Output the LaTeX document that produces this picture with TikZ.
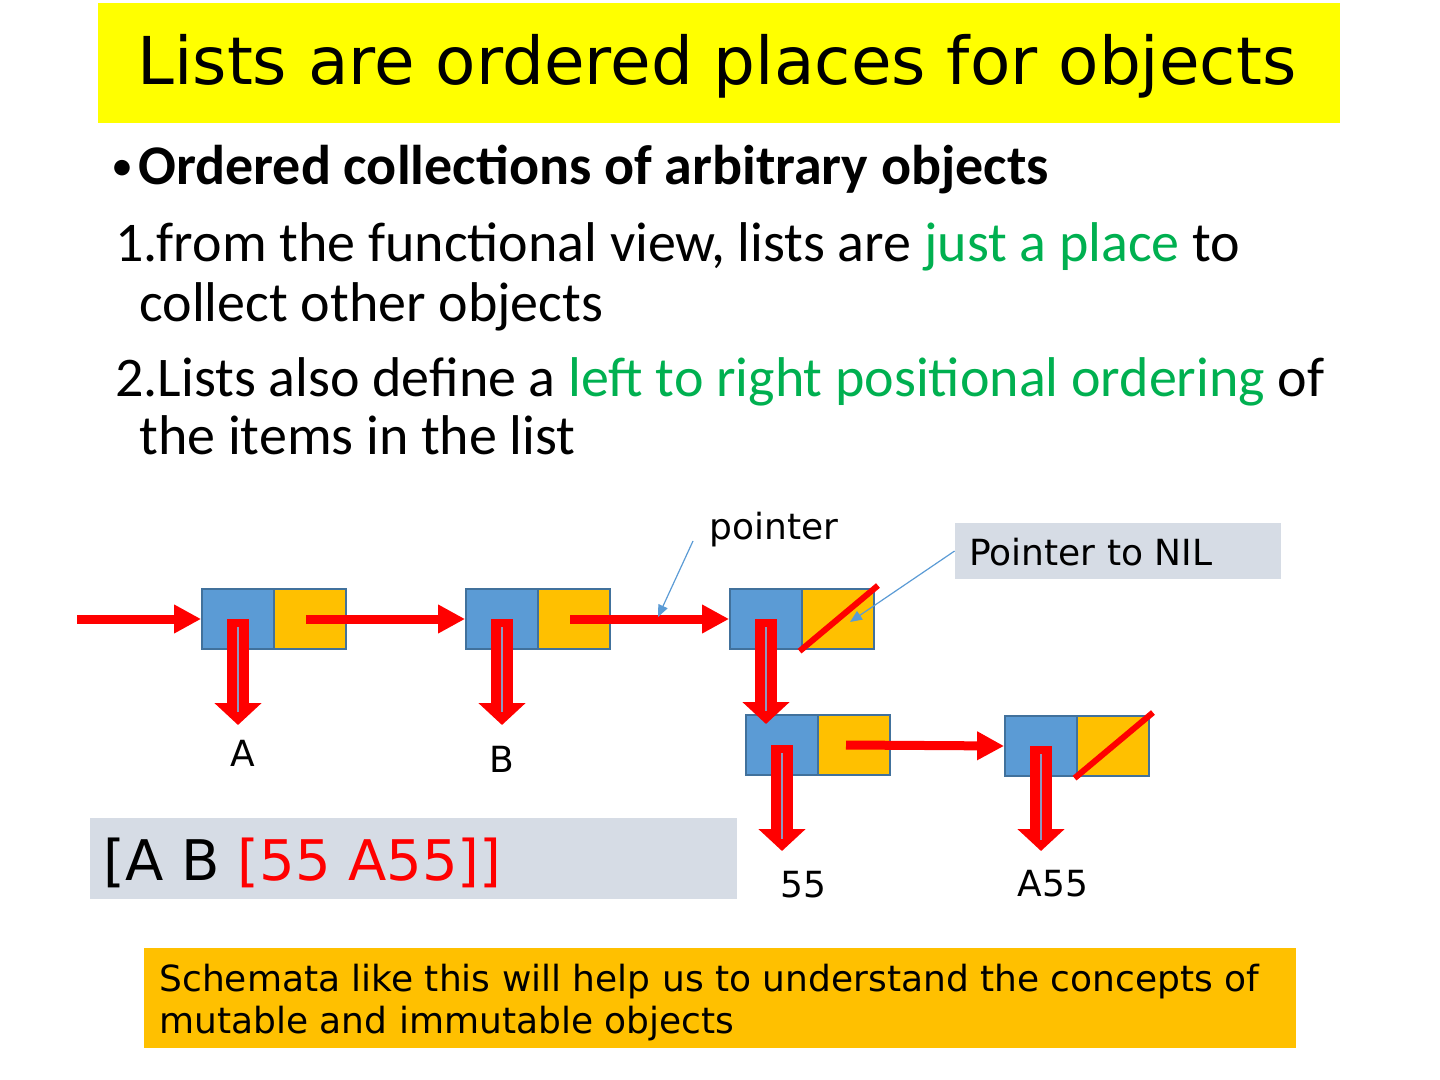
\documentclass[tikz,border=0pt]{standalone}
\usepackage{fontspec}
\setmainfont{Carlito}
\newfontfamily\dejavu{DejaVu Sans}
\usetikzlibrary{arrows.meta}
\definecolor{cellblue}{HTML}{5B9BD5}
\definecolor{cellorange}{HTML}{FFC000}
\definecolor{celledge}{HTML}{41719C}
\definecolor{boxgray}{HTML}{D6DCE5}
\definecolor{okgreen}{HTML}{00B050}
\definecolor{stripegray}{HTML}{8E97C0}
\definecolor{titleyellow}{HTML}{FFFF00}
\tikzset{
  cellbox/.style={draw=celledge, line width=0.9pt, minimum width=36pt, minimum height=30pt, inner sep=0pt},
  bcell/.style={cellbox, fill=cellblue},
  ocell/.style={cellbox, fill=cellorange},
  harrow/.style={draw=red, line width=4.5pt, -{Triangle[width=13.5pt,length=13.5pt]}},
  varrow/.style={draw=red, line width=11pt, -{Triangle[width=23pt,length=11pt]}},
  vstripe/.style={draw=stripegray, line width=1.2pt},
  nilslash/.style={draw=red, line width=3pt, shorten >=-2pt, shorten <=-1pt},
  callout/.style={draw=cellblue, line width=0.6pt, -{Triangle[width=5pt,length=6pt]}},
  bodytext/.style={anchor=base west, inner sep=0pt, font=\fontsize{28pt}{34pt}\selectfont},
  lbl/.style={anchor=base, inner sep=0pt, font=\dejavu\fontsize{18pt}{22pt}\selectfont},
  notetext/.style={anchor=base west, inner sep=0pt, font=\dejavu\fontsize{18pt}{22pt}\selectfont},
}
\begin{document}
\begin{tikzpicture}[x=0.5pt,y=-0.5pt]
\useasboundingbox (0,0) rectangle (1440,1080);
% title
\node[fill=titleyellow, minimum width=621pt, minimum height=60pt, inner sep=0pt] (titlebox) at (719,63) {};
\node[anchor=base, inner sep=0pt, font=\dejavu\fontsize{33pt}{40pt}\selectfont] (title) at (717,85) {Lists are ordered places for objects};
% body
\node[anchor=base west, inner sep=0pt, font=\fontsize{22pt}{26pt}\selectfont] (bullet) at (111.5,181) {\textbullet};
\node[bodytext] (l1) at (138,185) {\textbf{Ordered collections of arbitrary objects}};
\node[bodytext] (l2) at (115,262) {1.from the functional view, lists are \textcolor{okgreen}{just a place} to};
\node[bodytext] (l3) at (139,322) {collect other objects};
\node[bodytext] (l4) at (115,397) {2.Lists also define a \textcolor{okgreen}{left to right positional ordering} of};
\node[bodytext] (l5) at (139,455) {the items in the list};
% cells
\node[bcell] (b1) at (238,619) {};
\node[ocell] (y1) at (310,619) {};
\node[bcell] (b2) at (502,619) {};
\node[ocell] (y2) at (574,619) {};
\node[bcell] (b3) at (766,619) {};
\node[ocell] (y3) at (838,619) {};
\node[bcell] (b4) at (782,745) {};
\node[ocell] (y4) at (854,745) {};
\node[bcell] (b5) at (1041,746) {};
\node[ocell] (y5) at (1113,746) {};
% labels
\node[lbl] (la) at (243,766) {A};
\node[lbl] (lb) at (502,772) {B};
\node[lbl] (l55) at (803,897) {55};
\node[lbl] (la55) at (1053,896) {A55};
\node[lbl, anchor=base west] (ptr) at (709,539) {pointer};
\node[fill=boxgray, minimum width=163pt, minimum height=28pt, inner sep=0pt] (nilbox) at (1118,551) {};
\node[lbl, anchor=base west] (niltxt) at (969,565) {Pointer to NIL};
% list box
\node[fill=boxgray, minimum width=323.5pt, minimum height=40.5pt, inner sep=0pt] (listbox) at (413.5,858.5) {};
\node[anchor=base west, inner sep=0pt, font=\dejavu\fontsize{28pt}{34pt}\selectfont] (listtxt) at (103,880) {[A B \textcolor{red}{[55 A55]]}};
% bottom note
\node[fill=cellorange, minimum width=576pt, minimum height=50pt, inner sep=0pt] (note) at (720,998) {};
\node[notetext] (note1) at (159,991) {Schemata like this will help us to understand the concepts of};
\node[notetext] (note2) at (159,1033) {mutable and immutable objects};
% coordinates
\coordinate (in0) at (77,619);
\coordinate (tipA) at (238,725);
\coordinate (tipB) at (502,725);
\coordinate (tip3) at (766,724);
\coordinate (tip4) at (782,851);
\coordinate (tip5) at (1041,851);
\coordinate (ptrS) at (693,541);
\coordinate (ptrE) at (658,617);
\coordinate (nilE) at (850,622);
% nil slashes
\draw[nilslash] (y3.south west) -- (y3.north east);
\draw[nilslash] (y5.south west) -- (y5.north east);
% horizontal arrows
\draw[harrow] (in0) -- (b1.west);
\draw[harrow] ([xshift=-2pt]y1.center) -- (b2.west);
\draw[harrow] ([xshift=-2pt]y2.center) -- (b3.west);
\draw[harrow] ([xshift=-4pt]y4.center) -- (b5.west);
% vertical arrows
\draw[varrow] (b1.center) -- (tipA);
\draw[varrow] (b2.center) -- (tipB);
\draw[varrow] (b3.center) -- (tip3);
\draw[varrow] (b4.center) -- (tip4);
\draw[varrow] (b5.center) -- (tip5);
\draw[vstripe] (b1.center) ++(0,8) -- ++(0,85);
\draw[vstripe] (b2.center) ++(0,8) -- ++(0,85);
\draw[vstripe] (b3.center) ++(0,8) -- ++(0,84);
\draw[vstripe] (b4.center) ++(0,8) -- ++(0,86);
\draw[vstripe] (b5.center) ++(0,8) -- ++(0,86);
% callouts
\draw[callout] (ptrS) -- (ptrE);
\draw[callout] (nilbox.west) -- (nilE);
\end{tikzpicture}
\end{document}
